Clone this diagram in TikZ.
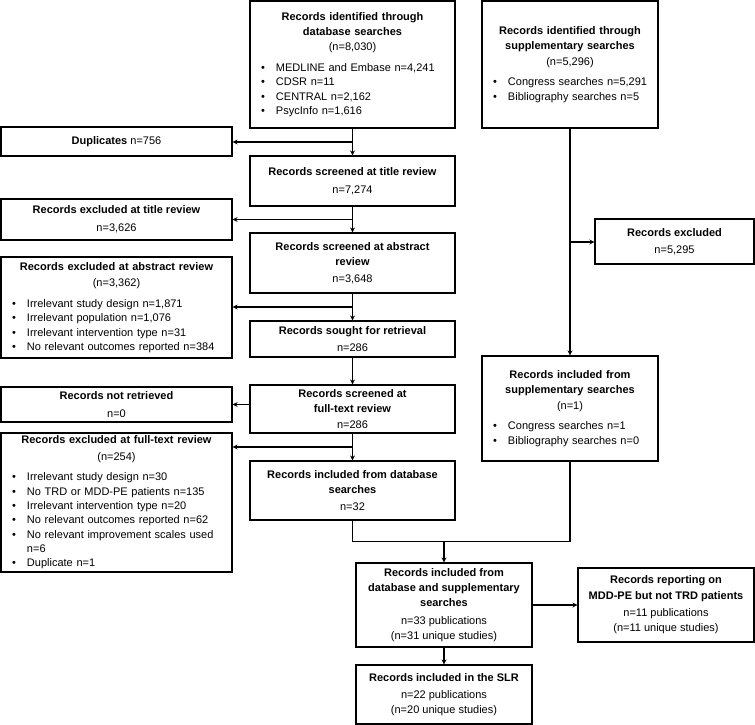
\documentclass[tikz,border=0pt]{standalone}
\usepackage{fontspec}
\setmainfont{Liberation Sans}
\usetikzlibrary{arrows.meta,calc}
\newcommand{\bitem}[1]{\par\hangindent=17pt\hangafter=1\noindent\makebox[17pt][l]{\hspace{2pt}\textbullet}#1}
\newcommand{\blist}{\par\vspace{6.5pt}\raggedright\fontsize{11}{14.3}\selectfont}
\begin{document}
\begin{tikzpicture}[x=1pt,y=-1pt,
  box/.style={draw, line width=1.1pt, inner sep=0pt, font=\fontsize{11}{15.3}\selectfont},
  plainbox/.style={box, align=center},
  conn/.style={line width=1.1pt},
  arr/.style={conn, -{Stealth[length=5pt,width=5pt]}}]
\useasboundingbox (0,0) rectangle (755,725);
% main flow
\node[box, minimum width=205pt, minimum height=127pt, text width=187pt] (db) at (352.5,64.5)
  {{\centering\textbf{Records identified through\\database searches}\\(n=8,030)\par}\blist
   \bitem{MEDLINE and Embase n=4,241}\bitem{CDSR n=11}\bitem{CENTRAL n=2,162}\bitem{PsycInfo n=1,616}\par};
\node[box, minimum width=176pt, minimum height=127pt, text width=158pt] (supp) at (570,64.5)
  {{\centering\textbf{Records identified through\\supplementary searches}\\(n=5,296)\par}\blist
   \bitem{Congress searches n=5,291}\bitem{Bibliography searches n=5}\par};
\node[plainbox, minimum width=231pt, minimum height=29pt] (dup) at (116.5,141.5)
  {\textbf{Duplicates} n=756};
\node[plainbox, minimum width=205pt, minimum height=50pt] (title) at (352.5,181)
  {\textbf{Records screened at title review}\\[3pt]n=7,274};
\node[plainbox, minimum width=231pt, minimum height=41pt] (extitle) at (116.5,219.5)
  {\textbf{Records excluded at title review}\\[3pt]n=3,626};
\node[plainbox, minimum width=205pt, minimum height=60pt] (abs) at (352.5,263)
  {\textbf{Records screened at abstract}\\\textbf{review}\\[1pt]n=3,648};
\node[box, minimum width=231pt, minimum height=101pt, text width=213pt] (exabs) at (116.5,307.5)
  {{\centering\textbf{Records excluded at abstract review}\\[1pt](n=3,362)\par}\blist
   \bitem{Irrelevant study design n=1,871}\bitem{Irrelevant population n=1,076}\bitem{Irrelevant intervention type n=31}\bitem{No relevant outcomes reported n=384}\par};
\node[plainbox, minimum width=205pt, minimum height=36pt] (sought) at (352.5,339)
  {\textbf{Records sought for retrieval}\\[1pt]n=286};
\node[plainbox, minimum width=205pt, minimum height=48pt] (full) at (352.5,409)
  {\textbf{Records screened at}\\\textbf{full-text review}\\[1pt]n=286};
\node[plainbox, minimum width=231pt, minimum height=35pt] (notret) at (116.5,404.5)
  {\textbf{Records not retrieved}\\[2pt]n=0};
\node[box, minimum width=231pt, minimum height=139pt, text width=213pt] (exfull) at (116.5,502.5)
  {{\centering\textbf{Records excluded at full-text review}\\[1pt](n=254)\par}\blist
   \bitem{Irrelevant study design n=30}\bitem{No TRD or MDD-PE patients n=135}\bitem{Irrelevant intervention type n=20}\bitem{No relevant outcomes reported n=62}\bitem{No relevant improvement scales used\newline n=6}\bitem{Duplicate n=1}\par};
\node[plainbox, minimum width=205pt, minimum height=59pt] (incdb) at (352.5,490.5)
  {\textbf{Records included from database}\\\textbf{searches}\\[1pt]n=32};
% right column
\node[plainbox, minimum width=159pt, minimum height=45pt] (excl) at (674.5,241.5)
  {\textbf{Records excluded}\\[2pt]n=5,295};
\node[box, minimum width=176pt, minimum height=105pt, text width=158pt] (incsupp) at (570,408.5)
  {{\centering\textbf{Records included from\\supplementary searches}\\(n=1)\par}\blist
   \bitem{Congress searches n=1}\bitem{Bibliography searches n=0}\par};
% bottom
\node[plainbox, minimum width=176pt, minimum height=84pt] (comb) at (444,605)
  {\textbf{Records included from}\\\textbf{database and supplementary}\\\textbf{searches}\\[2pt]n=33 publications\\(n=31 unique studies)};
\node[plainbox, minimum width=176pt, minimum height=74pt] (mdd) at (666,605)
  {\textbf{Records reporting on}\\\textbf{MDD-PE but not TRD patients}\\[2pt]n=11 publications\\(n=11 unique studies)};
\node[plainbox, minimum width=176pt, minimum height=59pt] (slr) at (444,694.5)
  {\textbf{Records included in the SLR}\\[2pt]n=22 publications\\(n=20 unique studies)};
% connectors
\coordinate (m1) at ($(db.south)!0.5!(title.north)$);
\coordinate (m2) at ($(title.south)!0.5!(abs.north)$);
\coordinate (m3) at ($(abs.south)!0.5!(sought.north)$);
\coordinate (m5) at ($(full.south)!0.5!(incdb.north)$);
\coordinate (ms) at ($(supp.south)!0.5!(incsupp.north)$);
\coordinate (mj) at ($(incdb.south)!0.5!(comb.north)$);
\draw[arr] (db) -- (title);
\draw[arr] (m1) -- (m1 -| dup.east);
\draw[arr] (title) -- (abs);
\draw[arr] (m2) -- (m2 -| extitle.east);
\draw[arr] (abs) -- (sought);
\draw[arr] (m3) -- (m3 -| exabs.east);
\draw[arr] (sought) -- (full);
\draw[arr] (full.west |- notret.east) -- (notret.east);
\draw[arr] (full) -- (incdb);
\draw[arr] (m5) -- (m5 -| exfull.east);
\draw[arr] (supp) -- (incsupp);
\draw[arr] (ms) -- (ms -| excl.west);
\draw[conn] (incdb.south) -- (incdb.south |- mj) -- (incsupp.south |- mj) -- (incsupp.south);
\draw[arr] (comb.north |- mj) -- (comb.north);
\draw[arr] (comb) -- (mdd);
\draw[arr] (comb) -- (slr);
\end{tikzpicture}
\end{document}
